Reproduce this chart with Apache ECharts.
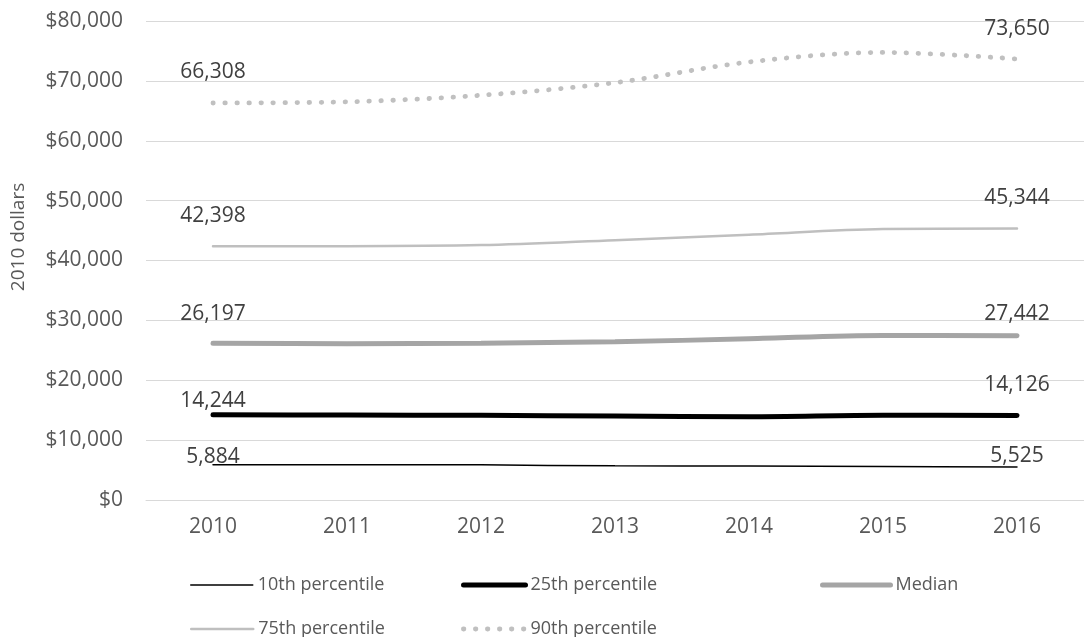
<!DOCTYPE html>
<html>
<head>
<meta charset="utf-8">
<script src="https://cdn.jsdelivr.net/npm/echarts@6/dist/echarts.min.js"></script>
<style>
html, body { margin: 0; padding: 0; background: #fff; }
#main { width: 1084px; height: 637px; }
</style>
</head>
<body>
<div id="main"></div>
<script>
// categories and values
var years = ['2010', '2011', '2012', '2013', '2014', '2015', '2016'];
var names = ['10th percentile', '25th percentile', 'Median', '75th percentile', '90th percentile'];
var p10 = [5884, 5900, 5870, 5700, 5680, 5600, 5525];
var p25 = [14244, 14190, 14140, 14020, 13910, 14140, 14126];
var p50 = [26197, 26100, 26200, 26430, 26930, 27490, 27442];
var p75 = [42398, 42400, 42570, 43400, 44300, 45250, 45344];
var p90 = [66308, 66500, 67600, 69700, 73150, 74750, 73650];
var yTicks = [0, 80000, 10000]; // min, max, interval

var allData = [p10, p25, p50, p75, p90];

// styles
var fontName = 'Open Sans';
var lineStyles = [
	{ color: '#000000', width: 1.5, type: 'solid', cap: 'round' },     // 10th
	{ color: '#000000', width: 5, type: 'solid', cap: 'round' },       // 25th
	{ color: '#a5a5a5', width: 5, type: 'solid', cap: 'round' },       // median
	{ color: '#bfbfbf', width: 2.5, type: 'solid', cap: 'round' },     // 75th
	{ color: '#c0c0c0', width: 4.8, type: [0.5, 11.5], cap: 'round' }  // 90th dots
];
// label distance above the first / last point
var labelGap = [[-4, -1], [2, 19], [18, 10], [19, 19], [19, 19]];
// legend slots: left of icon, vertical centre, icon width
var legendPos = [[190, 586, 62], [461, 586, 62], [820, 586, 68], [190, 630, 62], [461, 630, 62]];

function fmt(v){
	return String(v).replace(/\B(?=(\d{3})+(?!\d))/g, ',');
}

// one line series, labels only on the end points
function GetSeries(i){
	var arr = allData[i];
	return {
		name: names[i],
		type: 'line',
		smooth: 0.33,
		symbol: 'circle',
		symbolSize: 2,
		showSymbol: true,
		itemStyle: { color: 'rgba(0,0,0,0)' },  // hidden points, keep labels
		lineStyle: lineStyles[i],
		z: 10 - i,
		label: {
			show: false,
			position: 'top',
			color: '#404040',
			fontFamily: fontName,
			fontSize: 21,
			formatter: function(p){ return fmt(p.value); }
		},
		data: arr.map(function(v, k){
			if (k === 0 || k === arr.length - 1) {
				return { value: v, label: { show: true, distance: labelGap[i][k === 0 ? 0 : 1] } };
			}
			return v;
		})
	};
}

function GetLegend(i){
	return {
		data: [names[i]],
		left: legendPos[i][0],
		top: legendPos[i][1] - 10,
		padding: 0,
		itemWidth: legendPos[i][2],
		itemHeight: 14,
		selectedMode: false,
		lineStyle: {
			width: lineStyles[i].width,
			type: lineStyles[i].type,
			cap: 'round'
		},
		textStyle: { color: '#595959', fontFamily: fontName, fontSize: 18 }
	};
}

var series = [], legends = [];
for (var i = 0; i < names.length; i++) {
	series.push(GetSeries(i));
	legends.push(GetLegend(i));
}

var chart = echarts.init(document.getElementById('main'), null, { renderer: 'canvas' });
chart.setOption({
	animation: false,
	backgroundColor: '#ffffff',
	grid: { left: 146, right: -10, top: 21, bottom: 137 },
	legend: legends,
	graphic: [{
		type: 'text',
		x: 19, y: 237,
		rotation: Math.PI / 2,
		style: {
			text: '2010 dollars',
			fill: '#595959',
			font: '19px "Open Sans"',
			align: 'center',
			verticalAlign: 'middle'
		}
	}],
	xAxis: {
		type: 'category',
		data: years,
		boundaryGap: true,
		axisLine: { show: true, lineStyle: { color: '#d9d9d9', width: 1 } },
		axisTick: { show: false },
		axisLabel: { color: '#595959', fontFamily: fontName, fontSize: 21, margin: 17 },
		splitLine: { show: false }
	},
	yAxis: {
		type: 'value',
		min: yTicks[0], max: yTicks[1], interval: yTicks[2],
		axisLine: { show: false },
		axisTick: { show: false },
		axisLabel: {
			color: '#595959', fontFamily: fontName, fontSize: 21, margin: 23,
			formatter: function(v){ return '$' + fmt(v); }
		},
		splitLine: { lineStyle: { color: '#d9d9d9', width: 1 } }
	},
	series: series
});
</script>
</body>
</html>
